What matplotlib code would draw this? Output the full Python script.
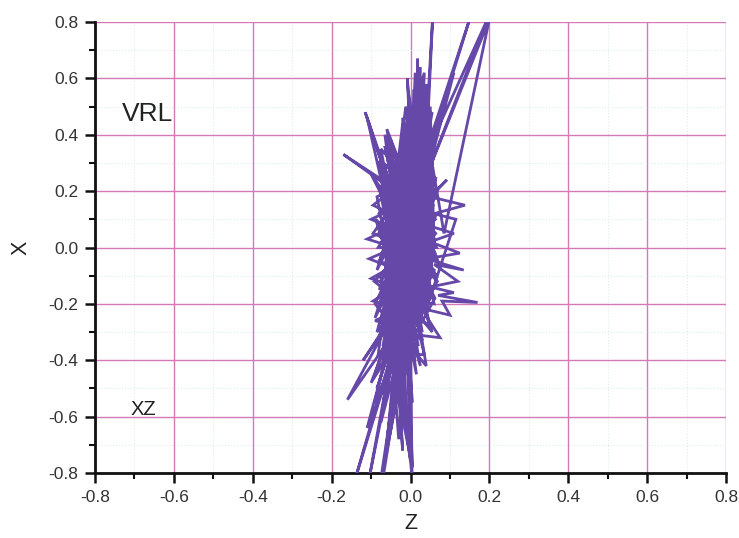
import matplotlib
matplotlib.use("Agg")
import matplotlib.pyplot as plt
from matplotlib.ticker import MultipleLocator, AutoMinorLocator

plt.rcParams['font.family'] = ['Liberation Sans', 'DejaVu Sans']
plt.rcParams['axes.unicode_minus'] = False

# ---- trajectory data (Z, X), in drawing order ----
seg_core_sweep = [
    (-0.065, -0.25), (-0.058, 0.22), (-0.062, -0.30), (-0.050, 0.28), (-0.055, -0.22),
    (-0.046, 0.30), (-0.048, -0.32), (-0.040, 0.25), (-0.043, -0.28), (-0.035, 0.33),
    (-0.038, -0.35), (-0.030, 0.30), (-0.032, -0.30), (-0.025, 0.36), (-0.028, -0.33),
    (-0.020, 0.32), (-0.022, -0.38), (-0.015, 0.38), (-0.018, -0.30), (-0.010, 0.35),
    (-0.012, -0.36), (-0.005, 0.40), (-0.008, -0.33), (0.000, 0.36), (-0.002, -0.30),
    (0.005, 0.42), (0.002, -0.28), (0.010, 0.38), (0.008, -0.32), (0.015, 0.40),
    (0.012, -0.25), (0.020, 0.36), (0.018, -0.28), (0.025, 0.42), (0.022, -0.22),
    (0.030, 0.35), (0.028, -0.25), (0.035, 0.38), (0.033, -0.20), (0.040, 0.32),
    (0.038, -0.22), (0.045, 0.30), (0.042, -0.18), (0.050, 0.25), (0.048, -0.15),
    (0.055, 0.20), (0.052, -0.10), (0.058, 0.12),
]
seg_core_cross = [
    (-0.078, 0.08), (0.020, -0.35), (-0.072, 0.28), (0.065, -0.10), (-0.080, -0.05),
    (0.040, 0.35), (-0.070, -0.25), (0.062, 0.18), (-0.076, 0.20), (0.030, -0.30),
    (-0.060, 0.35), (0.066, 0.00), (-0.082, 0.00), (0.050, 0.30), (-0.072, -0.18),
    (0.060, -0.20), (-0.050, 0.38), (0.010, -0.40), (-0.078, -0.10), (0.063, 0.10),
    (-0.068, 0.30), (0.045, -0.25), (-0.080, 0.12), (0.058, 0.26), (-0.062, -0.28),
    (0.055, -0.15), (-0.075, 0.24), (0.064, 0.05), (-0.079, -0.15), (0.035, 0.40),
    (-0.040, -0.38), (0.060, -0.08), (-0.070, 0.02), (0.050, 0.20), (-0.066, -0.22),
    (0.030, -0.33), (-0.058, 0.32), (0.062, -0.02),
]
seg_core_dense = [
    (-0.085, -0.30), (0.050, 0.40), (-0.070, -0.40), (0.065, 0.25), (-0.090, -0.20),
    (0.040, -0.42), (-0.060, 0.42), (0.070, -0.05), (-0.095, 0.05), (0.055, 0.35),
    (-0.080, -0.32), (0.045, 0.15), (-0.075, 0.35), (0.025, -0.42), (-0.088, 0.10),
    (0.068, -0.12), (-0.055, -0.42), (0.058, 0.32), (-0.085, -0.08), (0.030, 0.45),
    (-0.070, -0.35), (0.066, 0.12), (-0.092, -0.12), (0.048, -0.28), (-0.065, 0.40),
    (0.015, -0.45), (-0.080, 0.22), (0.062, -0.18), (-0.045, -0.45), (0.052, 0.38),
    (-0.090, -0.25), (0.068, 0.20), (-0.078, 0.30), (0.035, -0.38), (-0.082, -0.38),
    (0.000, 0.45), (-0.060, -0.10), (0.055, -0.30),
]
seg_left_edge = [
    (-0.040, 0.14), (-0.100, 0.10), (-0.050, 0.07), (-0.110, 0.03), (-0.040, 0.00),
    (-0.105, -0.04), (-0.050, -0.07), (-0.100, -0.11), (-0.040, -0.14), (-0.095, -0.19),
    (-0.030, -0.22), (-0.090, -0.26), (-0.020, -0.28), (-0.085, 0.18), (-0.030, 0.22),
    (-0.095, 0.15), (-0.020, 0.10),
]
seg_right_edge = [
    (0.040, 0.08), (0.110, 0.05), (0.050, 0.02), (0.125, -0.02), (0.040, -0.04),
    (0.135, -0.08), (0.060, -0.06), (0.120, -0.12), (0.050, -0.14), (0.110, -0.16),
    (0.070, -0.17), (0.170, -0.195), (0.080, -0.19), (0.100, -0.24), (0.040, -0.22),
    (0.115, 0.10), (0.060, 0.12), (0.138, 0.15), (0.050, 0.18), (0.092, 0.24),
    (0.030, 0.15),
]
seg_horizontal = [
    (-0.070, 0.25), (0.050, 0.22), (-0.065, 0.18), (0.060, 0.15), (-0.070, 0.12),
    (0.055, 0.08), (-0.075, 0.05), (0.060, 0.02), (-0.070, -0.02), (0.055, -0.05),
    (-0.072, -0.09), (0.050, -0.12), (-0.068, -0.16), (0.045, -0.19), (-0.065, -0.23),
    (0.035, -0.26), (-0.060, -0.30), (0.020, -0.32), (-0.055, -0.35), (0.010, -0.38),
    (-0.050, -0.40),
]
seg_lower_fan = [
    (0.005, -0.78), (-0.010, -0.30), (-0.070, -0.82), (-0.030, -0.32), (-0.140, -0.82),
    (-0.045, -0.36), (-0.105, -0.82), (-0.035, -0.33), (-0.020, -0.72), (-0.040, -0.30),
    (-0.160, -0.54), (-0.060, -0.28), (-0.120, -0.40), (-0.050, -0.25), (0.000, -0.76),
    (-0.010, -0.26), (-0.052, -0.66), (-0.030, -0.28), (0.004, -0.82), (0.000, -0.30),
    (-0.075, -0.82), (-0.025, -0.35), (-0.110, -0.64), (-0.045, -0.30), (0.075, -0.32),
    (0.020, -0.20), (-0.090, -0.45), (-0.040, -0.22), (-0.010, -0.60), (-0.020, -0.25),
]
seg_lower_extra = [
    (-0.020, -0.22), (-0.085, -0.50), (-0.030, -0.26), (-0.070, -0.58), (-0.045, -0.28),
    (-0.100, -0.48), (-0.020, -0.30), (-0.060, -0.70), (-0.035, -0.32), (-0.005, -0.66),
    (-0.040, -0.25), (-0.075, -0.62), (-0.015, -0.30), (-0.090, -0.55), (-0.050, -0.30),
    (-0.030, -0.68), (-0.010, -0.28), (0.005, -0.55), (-0.025, -0.28), (-0.065, -0.48),
    (-0.030, -0.24),
]
seg_upper = [
    (0.000, 0.20), (0.012, 0.62), (0.015, 0.25), (0.018, 0.67), (0.022, 0.30),
    (-0.005, 0.55), (0.003, 0.18), (0.028, 0.58), (0.032, 0.22), (0.040, 0.52),
    (0.045, 0.20), (-0.020, 0.46), (-0.010, 0.15), (0.050, 0.45), (0.020, 0.10),
    (0.008, 0.56), (0.010, 0.20), (-0.012, 0.50), (-0.030, 0.30), (0.035, 0.62),
    (0.025, 0.28), (0.045, 0.42),
]
seg_upper_extra = [
    (0.060, 0.00), (0.050, 0.50), (0.035, 0.15), (0.030, 0.55), (0.000, 0.10),
    (-0.015, 0.42), (0.005, 0.05), (0.020, 0.48), (-0.025, 0.20), (0.060, 0.38),
    (0.010, 0.12), (0.042, 0.58), (0.015, 0.15), (-0.008, 0.60), (0.004, 0.25),
    (0.025, 0.64), (0.020, 0.20), (0.055, 0.48), (-0.035, 0.25), (0.000, 0.45),
    (0.040, 0.10), (0.012, 0.52), (-0.020, 0.30), (0.065, 0.42), (0.030, 0.18),
]
seg_left_spikes = [
    (-0.040, 0.20), (-0.170, 0.33), (-0.050, 0.22), (-0.115, 0.48), (-0.045, 0.18),
    (-0.110, 0.46), (-0.060, 0.15), (-0.100, 0.26), (-0.030, 0.12), (-0.065, 0.36),
    (-0.040, 0.20), (-0.020, 0.44), (-0.010, 0.15),
]
seg_top = [
    (0.015, 0.20), (0.150, 0.81), (0.030, 0.30), (0.195, 0.81), (0.025, 0.20),
    (0.200, 0.81), (0.085, 0.05), (0.040, 0.42), (0.056, 0.81), (0.045, 0.48),
    (0.030, 0.25), (0.110, 0.62), (0.050, 0.30), (0.000, 0.00),
]

segments = [seg_core_sweep, seg_core_cross, seg_core_dense, seg_left_edge,
            seg_right_edge, seg_horizontal, seg_lower_fan, seg_lower_extra,
            seg_upper, seg_upper_extra, seg_left_spikes, seg_top]
z_vals = [p[0] for s in segments for p in s]
x_vals = [p[1] for s in segments for p in s]

panel_label = "VRL"
plane_label = "XZ"

fig = plt.figure(figsize=(7.39, 5.38), dpi=100)
ax = fig.add_axes([95 / 739, 65 / 538, 631 / 739, 451 / 538])

ax.plot(z_vals, x_vals, color='#6548a8', lw=2.0, zorder=3, solid_joinstyle='miter')

ax.set_xlim(-0.8, 0.8)
ax.set_ylim(-0.8, 0.8)
ax.xaxis.set_major_locator(MultipleLocator(0.2))
ax.yaxis.set_major_locator(MultipleLocator(0.2))
ax.xaxis.set_minor_locator(AutoMinorLocator(2))
ax.yaxis.set_minor_locator(AutoMinorLocator(2))
fmt = plt.FuncFormatter(lambda v, p: f"{v:.1f}".replace("-0.0", "0.0"))
ax.xaxis.set_major_formatter(fmt)
ax.yaxis.set_major_formatter(fmt)

ax.grid(which='major', color='#d37ab4', lw=1.0, zorder=1)
ax.grid(which='minor', color='#dcefe8', lw=0.8, ls=':', zorder=1)
ax.set_axisbelow(True)

for s in ['top', 'right']:
    ax.spines[s].set_visible(False)
for s in ['left', 'bottom']:
    ax.spines[s].set_linewidth(2)
    ax.spines[s].set_color('#111111')

ax.tick_params(which='major', length=7, width=1.8, direction='out', labelsize=12.5,
               labelcolor='#333333', pad=5, color='#111111')
ax.tick_params(which='minor', length=4, width=1.5, direction='out', color='#111111')

ax.set_xlabel("Z", fontsize=15.5, labelpad=6, color='#222222')
ax.set_ylabel("X", fontsize=15.5, labelpad=12, color='#222222')

ax.text(-0.6656, 0.4486, panel_label, fontsize=19, ha='center', va='baseline', color='#222222')
ax.text(-0.677, -0.594, plane_label, fontsize=14.5, ha='center', va='baseline', color='#222222')

fig.savefig("out.png", dpi=100)
